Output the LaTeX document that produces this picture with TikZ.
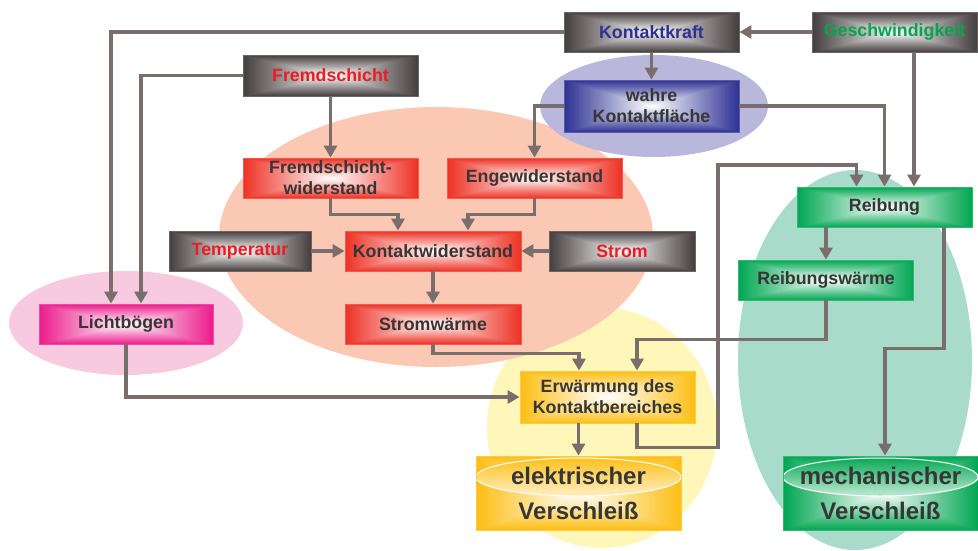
\documentclass[tikz,border=0pt]{standalone}
\usepackage{fontspec}
\setmainfont{Liberation Sans}
\usetikzlibrary{arrows.meta,calc}
\definecolor{arr}{HTML}{7A6E6C}
\definecolor{dk}{HTML}{453D3D}
\definecolor{rd}{HTML}{EE3124}
\definecolor{bl}{HTML}{2E3192}
\definecolor{gn}{HTML}{00A651}
\definecolor{mg}{HTML}{EC1C8C}
\definecolor{yl}{HTML}{FDBE14}
\definecolor{txt}{HTML}{363636}
\definecolor{tred}{HTML}{ED1C24}
\definecolor{tblue}{HTML}{2E3192}
\definecolor{tgreen}{HTML}{00A651}
\definecolor{eblue}{HTML}{BAB7DD}
\definecolor{esal}{HTML}{FBC8B4}
\definecolor{epink}{HTML}{F7CADF}
\definecolor{eyel}{HTML}{FFF6B9}
\definecolor{egrn}{HTML}{A8DBC9}
% rectangular (path) gradient: edge colour at the border, white at the centre
% arguments: name, 1-r, 1-g, 1-b of the edge colour
\newcommand\myBoxShading[4]{%
  \pgfdeclarefunctionalshading{#1}{\pgfpoint{-50bp}{-50bp}}{\pgfpoint{50bp}{50bp}}{}{%
    abs exch abs 2 copy lt {exch} if pop
    25 div dup 1 gt {pop 1} if
    dup dup
    #4 mul 1 exch sub
    exch #3 mul 1 exch sub exch
    3 -1 roll #2 mul 1 exch sub 3 1 roll
  }}
\myBoxShading{sdk}{0.73}{0.76}{0.76}
\myBoxShading{srd}{0.067}{0.808}{0.859}
\myBoxShading{sbl}{0.82}{0.808}{0.427}
\myBoxShading{sgn}{1}{0.349}{0.682}
\myBoxShading{smg}{0.075}{0.89}{0.451}
\myBoxShading{syl}{0.008}{0.255}{0.922}
\tikzset{
  gbox/.style={rectangle, draw=#1!80!white, line width=0.8pt, shade, shading=s#1, inner sep=0pt,
    align=center, font=\bfseries\fontsize{17.8}{21}\selectfont, text=txt},
  cyl/.style 2 args={gbox=#1, font=\bfseries\fontsize{24}{35}\selectfont,
    path picture={
      \path[top color=#1, bottom color=#1, middle color=#1!30!white, draw=white, line width=1pt]
        ([yshift=-21pt]path picture bounding box.north) ellipse [x radius=#2, y radius=19pt];}},
  arrow/.style={draw=arr, line width=3.6pt, -{Triangle[width=13pt,length=12pt]}},
}
\begin{document}
\begin{tikzpicture}[x=1pt,y=-1pt]
\useasboundingbox (0,0) rectangle (978,550);
% background blobs
\fill[eyel] (602,428) ellipse [x radius=115pt, y radius=120pt];
\fill[egrn] (855,360) ellipse [x radius=117pt, y radius=190pt];
\fill[esal] (436,237) ellipse [x radius=217pt, y radius=130pt];
\fill[epink] (126,323) ellipse [x radius=117pt, y radius=52pt];
\fill[eblue] (654,106) ellipse [x radius=114pt, y radius=51pt];
% nodes
\node[gbox=dk, minimum width=175pt, minimum height=40pt, text=tblue] (kk) at (651.5,32) {Kontaktkraft};
\node[gbox=dk, minimum width=165pt, minimum height=40pt, text=tgreen] (gs) at (894.5,32) {Geschwindigkeit};
\node[gbox=dk, minimum width=175pt, minimum height=41pt, text=tred] (fs) at (330.5,75.5) {Fremdschicht};
\node[gbox=bl, minimum width=175pt, minimum height=52pt] (wk) at (651.5,106) {wahre\\Kontaktfläche};
\node[gbox=rd, minimum width=175pt, minimum height=40pt] (fw) at (330.5,178) {Fremdschicht-\\widerstand};
\node[gbox=rd, minimum width=175pt, minimum height=40pt] (ew) at (534.5,178) {Engewiderstand};
\node[gbox=dk, minimum width=142pt, minimum height=40pt, text=tred] (tp) at (240,251) {Temperatur};
\node[gbox=rd, minimum width=176pt, minimum height=40pt] (kw) at (433,251) {Kontaktwiderstand};
\node[gbox=dk, minimum width=146pt, minimum height=40pt, text=tred] (st) at (622,251) {Strom};
\node[gbox=rd, minimum width=176pt, minimum height=40pt] (sw) at (433,324) {Stromwärme};
\node[gbox=mg, minimum width=174pt, minimum height=40pt] (lb) at (126,324) {Lichtbögen};
\node[gbox=yl, minimum width=175pt, minimum height=52pt] (ek) at (607.5,397) {Erwärmung des\\Kontaktbereiches};
\node[gbox=gn, minimum width=175pt, minimum height=40pt] (rb) at (884.5,207) {Reibung};
\node[gbox=gn, minimum width=175pt, minimum height=40pt] (rw) at (826,280) {Reibungswärme};
\node[cyl={yl}{102.5pt}, minimum width=205pt, minimum height=74pt] (ev) at (578.5,493) {elektrischer\\Verschleiß};
\node[cyl={gn}{97.5pt}, minimum width=195pt, minimum height=74pt] (mv) at (880.5,493) {mechanischer\\Verschleiß};
% bend points
\coordinate (b1) at (718,165);
% connectors
\draw[arrow] (gs.west) -- (kk.east);
\draw[arrow] (kk.south) -- (wk.north);
\draw[arrow] (kk.west) -| ([xshift=-15pt]lb.north);
\draw[arrow] (fs.west) -| ([xshift=15pt]lb.north);
\draw[arrow] (fs.south) -- (fw.north);
\draw[arrow] (wk.west) -| (ew.north);
\draw[arrow] (wk.east) -| (rb.north);
\draw[arrow] ([xshift=19.5pt]gs.south) -- ([xshift=29.5pt]rb.north);
\draw[arrow] ([xshift=29.5pt]ek.south) -- ++(0,24) -| (b1) -| ([xshift=-28pt]rb.north);
\draw[arrow] (fw.south) -- ++(0,16) -| ([xshift=-35pt]kw.north);
\draw[arrow] (ew.south) -- ++(0,16) -| ([xshift=35pt]kw.north);
\draw[arrow] (tp.east) -- (kw.west);
\draw[arrow] (st.west) -- (kw.east);
\draw[arrow] (kw.south) -- (sw.north);
\draw[arrow] (sw.south) -- ++(0,9) -| ([xshift=-28.5pt]ek.north);
\draw[arrow] (rw.south) -- ++(0,39) -| ([xshift=29.5pt]ek.north);
\draw[arrow] (lb.south) |- (ek.west);
\draw[arrow] (ev.north |- ek.south) -- (ev.north);
\draw[arrow] ([xshift=59.5pt]rb.south) -- ++(0,121) -| ([xshift=4.5pt]mv.north);
\draw[arrow] (rw.north |- rb.south) -- (rw.north);
\end{tikzpicture}
\end{document}
